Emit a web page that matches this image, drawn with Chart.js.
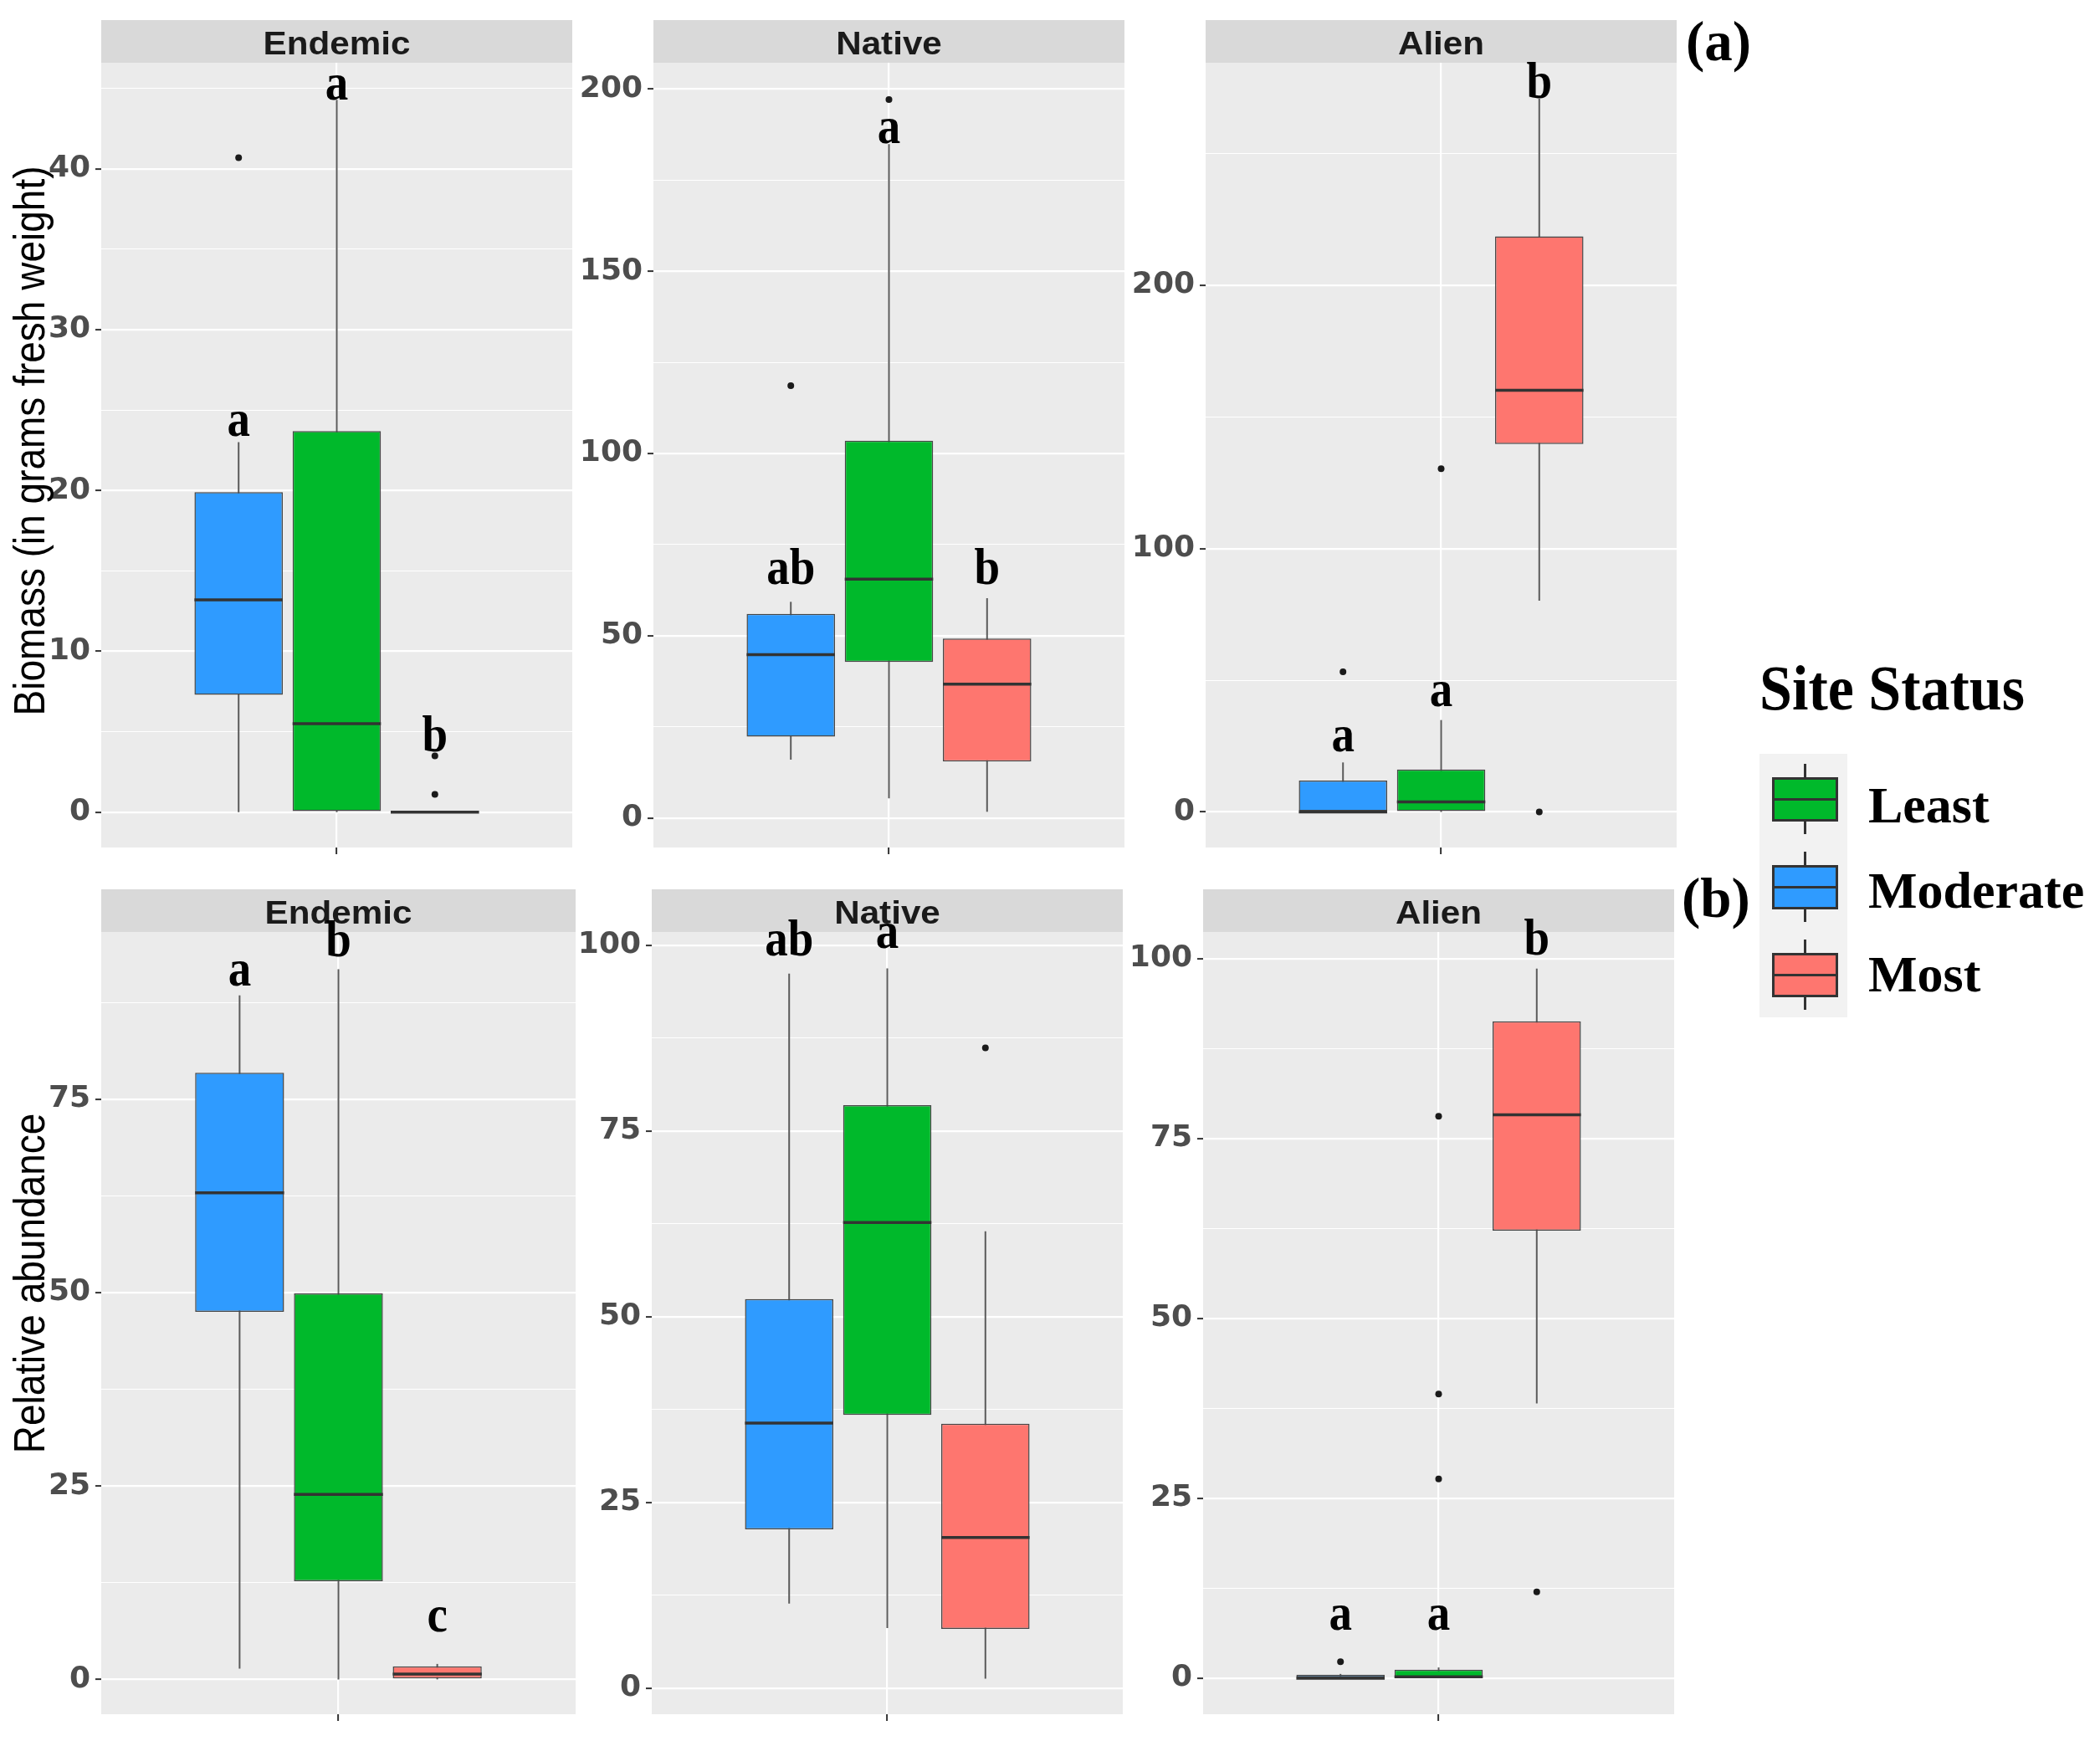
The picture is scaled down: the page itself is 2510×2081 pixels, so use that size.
<!DOCTYPE html>
<html>
<head>
<meta charset="utf-8">
<script src="https://cdn.jsdelivr.net/npm/chart.js@4.4.1/dist/chart.umd.min.js"></script>
<style>
  html, body { margin: 0; padding: 0; background: #fff; }
  #page { position: relative; width: 2510px; height: 2081px; overflow: hidden; }
  #page canvas { position: absolute; }
  .ytitle { position: absolute; width: 900px; height: 46px; line-height: 46px; font-size: 46px;
    font-family: "Liberation Sans", Arial, sans-serif; text-align: center; white-space: nowrap;
    color: #000; transform: rotate(-90deg) scaleY(1.13); }
  .serif { position: absolute; font-family: "Liberation Serif", "Times New Roman", serif;
    font-weight: bold; white-space: nowrap; color: #000; }
  .keybg { position: absolute; background: #F2F2F2; }
  .kbox { position: absolute; box-sizing: border-box; border: 3px solid #333; }
  .kline { position: absolute; background: #333; }
</style>
</head>
<body>
<div id="page"></div>
<script>
// groups in dodge order (left, middle, right)
const groups = ['Moderate', 'Least', 'Most'];
const panelNames = ['Endemic', 'Native', 'Alien'];
const legendOrder = ['Least', 'Moderate', 'Most'];

// box stats per group: [lower whisker, Q1, median, Q3, upper whisker]
const bioEndemicStats = [[0, 7.3, 13.2, 19.9, 23.0], [0, 0, 5.5, 23.7, 44.3], [0, 0, 0, 0, 0]];
const bioEndemicOutliers = [[40.7], [], [1.1, 3.5]];
const bioEndemicLetters = ['a', 'a', 'b'];
const bioEndemicLetterAt = [23.4, 44.3, 3.8];
const bioEndemicTicks = [0, 10, 20, 30, 40];
const bioEndemicRange = [-2.2, 46.6];

const bioNativeStats = [[16.0, 22.3, 44.8, 56.0, 59.3], [5.4, 42.8, 65.5, 103.5, 184.9], [1.7, 15.5, 36.7, 49.2, 60.3]];
const bioNativeOutliers = [[118.6], [197.1], []];
const bioNativeLetters = ['ab', 'a', 'b'];
const bioNativeLetterAt = [64.1, 185.2, 64.1];
const bioNativeTicks = [0, 50, 100, 150, 200];
const bioNativeRange = [-8.1, 207.2];

const bioAlienStats = [[0, 0, 0, 11.9, 18.8], [0, 0, 3.8, 16.1, 34.9], [80.2, 139.7, 160.1, 218.6, 270.8]];
const bioAlienOutliers = [[53.2], [130.3], [0]];
const bioAlienLetters = ['a', 'a', 'b'];
const bioAlienLetterAt = [23.0, 40.1, 271.0];
const bioAlienTicks = [0, 100, 200];
const bioAlienRange = [-13.5, 284.5];

const relEndemicStats = [[1.4, 47.5, 62.9, 78.4, 88.4], [0, 12.7, 23.9, 49.9, 91.8], [0, 0, 0.7, 1.7, 2.0]];
const relEndemicOutliers = [[], [], []];
const relEndemicLetters = ['a', 'b', 'c'];
const relEndemicLetterAt = [89.7, 93.5, 6.2];
const relEndemicTicks = [0, 25, 50, 75];
const relEndemicRange = [-4.5, 96.6];

const relNativeStats = [[11.4, 21.4, 35.7, 52.4, 96.2], [8.1, 36.8, 62.7, 78.5, 96.9], [1.3, 8.0, 20.3, 35.6, 61.5]];
const relNativeOutliers = [[], [], [86.2]];
const relNativeLetters = ['ab', 'a', ''];
const relNativeLetterAt = [98.6, 99.7, 0];
const relNativeTicks = [0, 25, 50, 75, 100];
const relNativeRange = [-3.5, 101.8];

const relAlienStats = [[0, 0, 0, 0.5, 0.6], [0, 0, 0.2, 1.2, 1.5], [38.2, 62.2, 78.3, 91.3, 98.6]];
const relAlienOutliers = [[2.3], [27.7, 39.5, 78.1], [12.0]];
const relAlienLetters = ['a', 'a', 'b'];
const relAlienLetterAt = [6.7, 6.7, 100.6];
const relAlienTicks = [0, 25, 50, 75, 100];
const relAlienRange = [-5.0, 103.7];

const yTitles = ['Biomass (in grams fresh weight)', 'Relative abundance'];

// styles / layout
const fills = { Moderate: '#2F9BFF', Least: '#00B92B', Most: '#FE766F' };
const colLeft = [[121, 781, 1441], [121, 779, 1438]];
const rowTop = [24, 1063];
const plotH = [938, 935];
const PW = 567, STRIP = 51, AXW = 115, AXH = 30;

const page = document.getElementById('page');

function dodge(i) { return 1 + (i - 1) * 0.25; }

function withMinor(major, lo, hi) {
  const step = major[1] - major[0];
  const out = major.slice();
  for (let v = major[0] - step / 2; v <= hi; v += step) {
    if (v >= lo) out.push(v);
  }
  return out.sort((a, b) => a - b);
}

function makePanel(row, col, title, stats, outliers, letters, letterAt, ticks, range) {
  const cv = document.createElement('canvas');
  cv.width = AXW + PW;
  cv.height = STRIP + plotH[row] + AXH;
  cv.style.left = (colLeft[row][col] - AXW) + 'px';
  cv.style.top = rowTop[row] + 'px';
  page.appendChild(cv);

  const allTicks = withMinor(ticks, range[0], range[1]);
  const isMajor = v => ticks.indexOf(v) >= 0;

  const deco = {
    id: 'boxDeco',
    beforeDraw(chart) {
      const ctx = chart.ctx, a = chart.chartArea;
      ctx.save();
      ctx.fillStyle = '#EBEBEB';
      ctx.fillRect(a.left, a.top, a.right - a.left, a.bottom - a.top);
      ctx.fillStyle = '#D9D9D9';
      ctx.fillRect(a.left, 0, a.right - a.left, a.top);
      ctx.translate((a.left + a.right) / 2, 41);
      ctx.scale(1.11, 1);
      ctx.font = 'bold 38px "Liberation Sans", Arial, sans-serif';
      ctx.textAlign = 'center';
      ctx.fillStyle = '#1A1A1A';
      ctx.fillText(title, 0, 0);
      ctx.restore();
    },
    beforeDatasetsDraw(chart) {
      const ctx = chart.ctx, xs = chart.scales.x, ys = chart.scales.y;
      ctx.save();
      ctx.strokeStyle = '#5a5a5a';
      ctx.lineWidth = 2;
      stats.forEach((s, i) => {
        const x = xs.getPixelForValue(dodge(i));
        ctx.beginPath();
        ctx.moveTo(x, ys.getPixelForValue(s[0]));
        ctx.lineTo(x, ys.getPixelForValue(s[4]));
        ctx.stroke();
      });
      ctx.restore();
    },
    afterDatasetsDraw(chart) {
      const ctx = chart.ctx, ys = chart.scales.y;
      const bars = chart.getDatasetMeta(0).data;
      ctx.save();
      ctx.strokeStyle = '#333';
      ctx.lineWidth = 3.5;
      stats.forEach((s, i) => {
        const b = bars[i];
        const y = ys.getPixelForValue(s[2]);
        ctx.beginPath();
        ctx.moveTo(b.x - b.width / 2, y);
        ctx.lineTo(b.x + b.width / 2, y);
        ctx.stroke();
      });
      ctx.restore();
    },
    afterDraw(chart) {
      const ctx = chart.ctx, xs = chart.scales.x, ys = chart.scales.y;
      letters.forEach((t, i) => {
        if (!t) return;
        ctx.save();
        ctx.translate(xs.getPixelForValue(dodge(i)), ys.getPixelForValue(letterAt[i]));
        ctx.scale(1, 1.12);
        ctx.font = 'bold 55px "Liberation Serif", "Times New Roman", serif';
        ctx.textAlign = 'center';
        ctx.textBaseline = 'alphabetic';
        ctx.fillStyle = '#000';
        ctx.fillText(t, 0, 0);
        ctx.restore();
      });
    }
  };

  return new Chart(cv.getContext('2d'), {
    type: 'bar',
    data: {
      datasets: [{
        type: 'bar',
        data: stats.map((s, i) => ({ x: dodge(i), y: [s[1], s[3]] })),
        backgroundColor: groups.map(g => fills[g]),
        borderColor: '#474747',
        borderWidth: 1.5,
        borderSkipped: false,
        barPercentage: 0.9,
        categoryPercentage: 1,
        order: 1
      }, {
        type: 'scatter',
        data: outliers.flatMap((o, i) => o.map(v => ({ x: dodge(i), y: v }))),
        pointRadius: 4,
        pointBackgroundColor: '#1a1a1a',
        pointBorderWidth: 0,
        order: 0
      }]
    },
    options: {
      responsive: false,
      animation: false,
      events: [],
      layout: { padding: { top: STRIP, left: 0, right: 0, bottom: 0 } },
      plugins: { legend: { display: false }, tooltip: { enabled: false } },
      scales: {
        x: {
          type: 'linear',
          min: 0.4,
          max: 1.6,
          offset: false,
          afterBuildTicks: s => { s.ticks = [{ value: 1 }]; },
          afterFit: s => { s.height = AXH; },
          ticks: { display: false },
          border: { display: false },
          grid: { offset: false, color: '#fff', lineWidth: 2.2, tickColor: '#333', tickLength: 8, tickWidth: 2 }
        },
        y: {
          type: 'linear',
          min: range[0],
          max: range[1],
          afterBuildTicks: s => { s.ticks = allTicks.map(v => ({ value: v })); },
          afterFit: s => { s.width = AXW; },
          border: { display: false },
          ticks: {
            autoSkip: false,
            padding: 6,
            color: '#4D4D4D',
            font: { family: 'DejaVu Sans', weight: 'bold', size: 36 },
            callback: v => isMajor(v) ? String(v) : ''
          },
          grid: {
            color: '#fff',
            lineWidth: c => isMajor(c.tick.value) ? 2.2 : 1.1,
            tickColor: c => isMajor(c.tick.value) ? '#333' : 'rgba(0,0,0,0)',
            tickLength: 7,
            tickWidth: 2
          }
        }
      }
    },
    plugins: [deco]
  });
}

makePanel(0, 0, panelNames[0], bioEndemicStats, bioEndemicOutliers, bioEndemicLetters, bioEndemicLetterAt, bioEndemicTicks, bioEndemicRange);
makePanel(0, 1, panelNames[1], bioNativeStats, bioNativeOutliers, bioNativeLetters, bioNativeLetterAt, bioNativeTicks, bioNativeRange);
makePanel(0, 2, panelNames[2], bioAlienStats, bioAlienOutliers, bioAlienLetters, bioAlienLetterAt, bioAlienTicks, bioAlienRange);
makePanel(1, 0, panelNames[0], relEndemicStats, relEndemicOutliers, relEndemicLetters, relEndemicLetterAt, relEndemicTicks, relEndemicRange);
makePanel(1, 1, panelNames[1], relNativeStats, relNativeOutliers, relNativeLetters, relNativeLetterAt, relNativeTicks, relNativeRange);
makePanel(1, 2, panelNames[2], relAlienStats, relAlienOutliers, relAlienLetters, relAlienLetterAt, relAlienTicks, relAlienRange);

// y axis titles
[527, 1534].forEach((cy, r) => {
  const d = document.createElement('div');
  d.className = 'ytitle';
  d.textContent = yTitles[r];
  d.style.left = (35 - 450) + 'px';
  d.style.top = (cy - 23) + 'px';
  page.appendChild(d);
});

// serif text placed by baseline
function serifText(text, left, baseline, size, stretch) {
  const d = document.createElement('div');
  d.className = 'serif';
  d.textContent = text;
  d.style.fontSize = size + 'px';
  d.style.lineHeight = size + 'px';
  d.style.left = left + 'px';
  d.style.top = (baseline - 0.8375 * size) + 'px';
  if (stretch) {
    d.style.transformOrigin = '0 ' + (0.8375 * size) + 'px';
    d.style.transform = 'scaleY(' + stretch + ')';
  }
  page.appendChild(d);
}

serifText('(a)', 2015, 72, 67);
serifText('(b)', 2010, 1096, 67);
serifText('Site Status', 2103, 849, 70, 1.1);

// legend keys
const bg = document.createElement('div');
bg.className = 'keybg';
Object.assign(bg.style, { left: '2103px', top: '901px', width: '105px', height: '315px' });
page.appendChild(bg);

const labelBase = [983, 1085, 1185];
legendOrder.forEach((g, k) => {
  const top = 901 + k * 105;
  const wh = document.createElement('div');
  wh.className = 'kline';
  Object.assign(wh.style, { left: '2156px', top: (top + 12) + 'px', width: '3px', height: '84px' });
  page.appendChild(wh);
  const box = document.createElement('div');
  box.className = 'kbox';
  Object.assign(box.style, { left: '2118px', top: (top + 28) + 'px', width: '79px', height: '53px', background: fills[g] });
  page.appendChild(box);
  const med = document.createElement('div');
  med.className = 'kline';
  Object.assign(med.style, { left: '2118px', top: (top + 53) + 'px', width: '79px', height: '3px' });
  page.appendChild(med);
  serifText(g, 2233, labelBase[k], 62);
});
</script>
</body>
</html>
